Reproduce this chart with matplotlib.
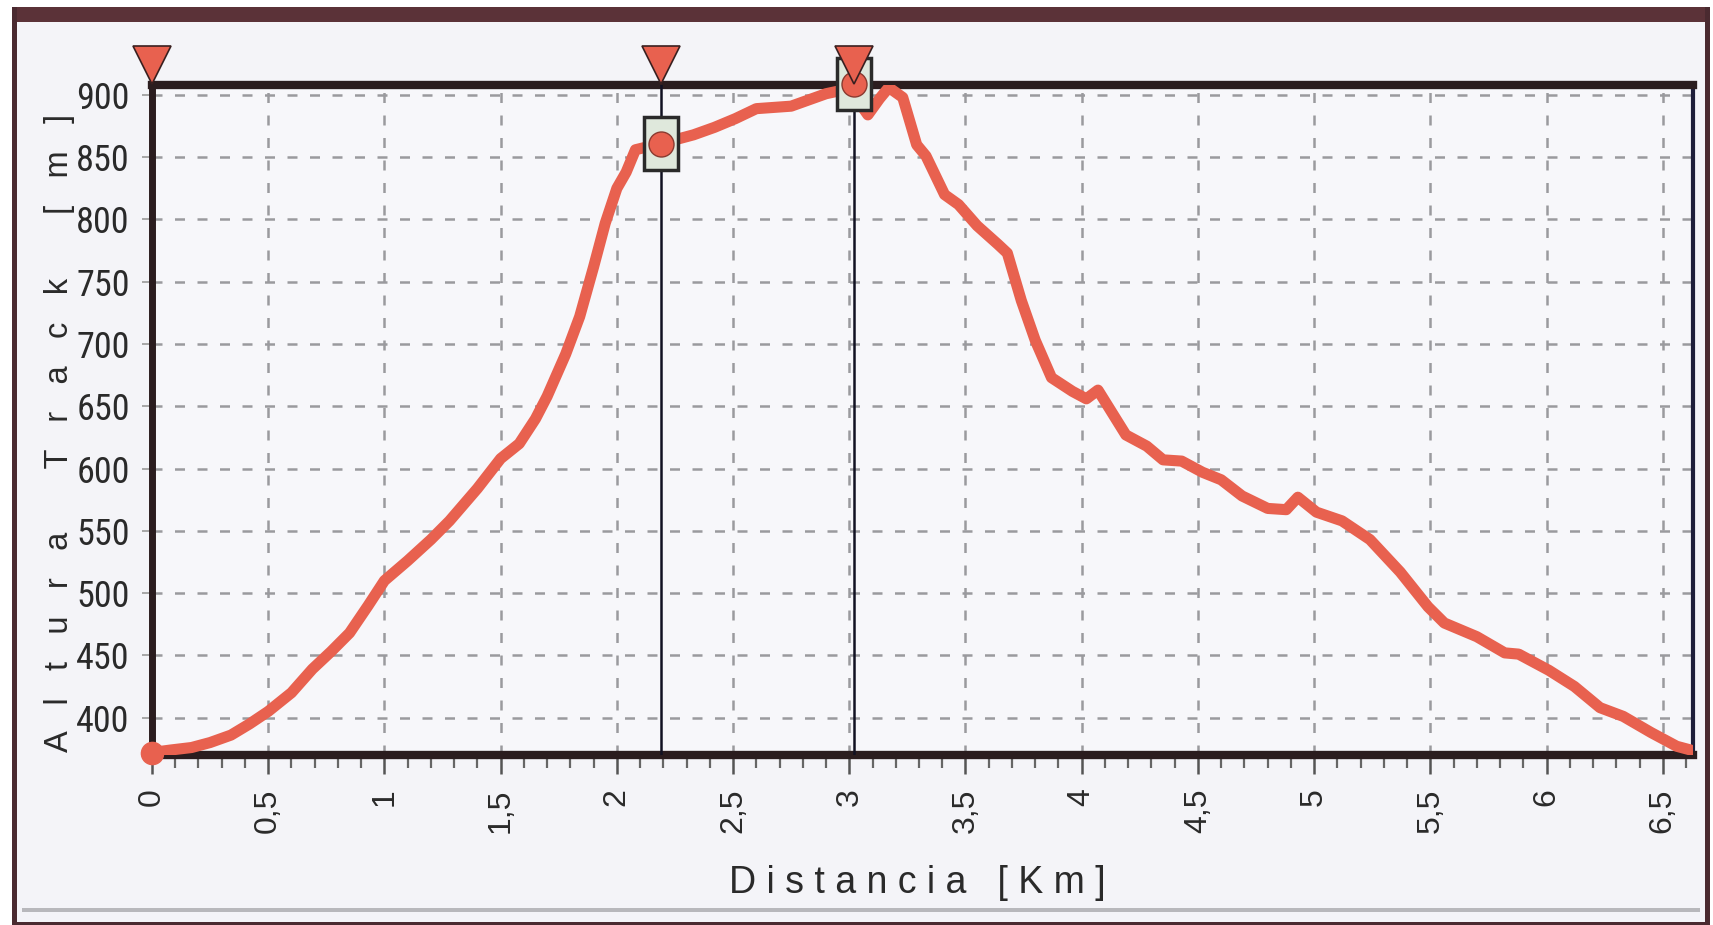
import matplotlib
matplotlib.use("Agg")
import matplotlib.pyplot as plt
from matplotlib.patches import Rectangle
from matplotlib.transforms import blended_transform_factory
from matplotlib import font_manager

# ---------------- data ----------------
dist_km = [0.00, 0.08, 0.17, 0.25, 0.34, 0.42, 0.50, 0.60, 0.69, 0.77, 0.85, 0.93,
           1.00, 1.05, 1.10, 1.20, 1.28, 1.40, 1.50, 1.58, 1.65, 1.70, 1.78, 1.84,
           1.90, 1.95, 2.00, 2.04, 2.08, 2.19, 2.33, 2.42, 2.51, 2.60, 2.75, 2.90,
           3.00, 3.05, 3.08, 3.13, 3.17, 3.23, 3.29, 3.33, 3.41, 3.47, 3.55, 3.64,
           3.68, 3.74, 3.80, 3.87, 3.96, 4.02, 4.07, 4.13, 4.19, 4.28, 4.35, 4.43,
           4.52, 4.60, 4.69, 4.80, 4.88, 4.93, 5.01, 5.12, 5.24, 5.37, 5.49, 5.56,
           5.70, 5.82, 5.88, 6.01, 6.12, 6.23, 6.33, 6.45, 6.56, 6.62]
alt_m = [372, 374, 376, 380, 386, 395, 405, 420, 439, 453, 468, 490,
         510, 518, 526, 543, 558, 584, 608, 620, 640, 658, 692, 722,
         762, 797, 825, 838, 856, 861, 868, 874, 881, 889, 891, 901,
         905, 892, 884, 897, 906, 898, 860, 851, 820, 812, 795, 780,
         773, 735, 703, 673, 662, 656, 663, 645, 627, 618, 607, 606,
         597, 591, 578, 568, 567, 577, 565, 558, 543, 517, 489, 476,
         465, 452, 451, 438, 425, 408, 401, 388, 377, 374]

marker_km = [0.0, 2.19, 3.02]        # waypoint markers (triangles on top)
boxed_km = [2.19, 3.02]              # selected points (boxed)
boxed_alt = [861, 909]

xticks = [0, 0.5, 1, 1.5, 2, 2.5, 3, 3.5, 4, 4.5, 5, 5.5, 6, 6.5]
xtick_labels = ["0", "0,5", "1", "1,5", "2", "2,5", "3", "3,5", "4", "4,5",
                "5", "5,5", "6", "6,5"]
yticks = [400, 450, 500, 550, 600, 650, 700, 750, 800, 850, 900]
ytick_labels = [str(v) for v in yticks]

x_title = "D i s t a n c i a   [ K m ]"
y_title = "A   l   t   u   r   a       T   r   a   c   k       [   m   ]"

# ---------------- style ----------------
W, H = 1713, 925
RED = "#e8614f"
BG = "#f4f4f8"
DARK = "#2b1d1f"

# pick a narrow font for the y tick labels if one is installed
names = {f.name for f in font_manager.fontManager.ttflist}
narrow = None
for cand in ["Liberation Sans Narrow", "DejaVu Sans Condensed", "Roboto Condensed",
             "Open Sans Condensed", "Noto Sans Condensed"]:
    if cand in names:
        narrow = cand
        break
ytick_family = [narrow, "Liberation Sans"] if narrow else ["Liberation Sans"]
ytick_size = 26 if narrow else 23

fig = plt.figure(figsize=(W / 100, H / 100), dpi=100)
fig.patch.set_facecolor(BG)

L, R, T, B = 152, 1693, 85, 755
ax = fig.add_axes([L / W, 1 - B / H, (R - L) / W, (B - T) / H])
ax.set_facecolor("#f7f7fa")
ax.set_xlim(0, 6.63)
ax.set_ylim(370, 908)

# grid
ax.set_axisbelow(True)
ax.grid(True, which="major", color="#9a9a9e", linestyle=(0, (4, 5)), linewidth=1.8)

# ticks
ax.set_xticks(xticks)
ax.set_xticklabels(xtick_labels, rotation=90, fontsize=23,
                   family=["Liberation Sans", "DejaVu Sans"], color="#2a2a2a")
ax.set_xticks([i / 10 for i in range(0, 67)], minor=True)
ax.set_yticks(yticks)
ax.set_yticklabels(ytick_labels, fontsize=ytick_size, family=ytick_family,
                   color="#2a2a2a")
ax.tick_params(axis="x", which="major", length=14, width=1.8, color="#555555", pad=10)
ax.tick_params(axis="x", which="minor", length=9, width=1.6, color="#666666")
ax.tick_params(axis="y", which="major", length=7, width=1.2, color="#999999", pad=9)

# spines
for side, lw in (("top", 6), ("bottom", 6), ("left", 5), ("right", 3)):
    ax.spines[side].set_linewidth(lw)
    ax.spines[side].set_color(DARK if side != "right" else "#1e1e3a")

# vertical marker lines
for xm in boxed_km:
    ax.axvline(xm, color="#111122", linewidth=1.8, zorder=3)

# elevation profile
ax.plot(dist_km, alt_m, color=RED, linewidth=8, solid_capstyle="round",
        solid_joinstyle="round", zorder=4)

# start dot
ax.plot(dist_km[0], alt_m[0], "o", color=RED, markersize=16, zorder=6, clip_on=False)

# boxed selected points
for xb, yb in zip(boxed_km, boxed_alt):
    ax.add_patch(Rectangle((xb - 0.075, yb - 21), 0.15, 42,
                           facecolor="#dfe8dc", edgecolor="#2a2a2a",
                           linewidth=2.5, zorder=5, clip_on=False))
    ax.plot(xb, yb, marker="o", markersize=18, color=RED, markeredgecolor="#8a3a30",
            markeredgewidth=1, zorder=6, clip_on=False)

# triangles on top of the plot
trans = blended_transform_factory(ax.transData, ax.transAxes)
for xm in marker_km:
    ax.plot(xm, 1.03, marker="v", markersize=27, color=RED, markeredgecolor="#3a2020",
            markeredgewidth=1.2, transform=trans, clip_on=False, zorder=7)

# axis titles
fig.text((L + R) / 2 / W - 0.003, 1 - 883 / H, x_title, ha="center", va="center",
         fontsize=27, family=["Liberation Sans", "DejaVu Sans"], color="#2a2a2a")
fig.text(60 / W, 1 - 433 / H, y_title, ha="center", va="center", rotation=90,
         fontsize=23.5, family=["Liberation Sans", "DejaVu Sans"], color="#2a2a2a")

# outer window frame
frame_kw = dict(transform=fig.transFigure, figure=fig)
fig.patches.append(Rectangle((0, 1 - 7 / H), 1, 7 / H, facecolor="white",
                             edgecolor="none", **frame_kw))
fig.patches.append(Rectangle((0, 1 - 22 / H), 1, 15 / H, facecolor="#5b3238",
                             edgecolor="none", **frame_kw))
fig.patches.append(Rectangle((12 / W, 0), 5 / W, 1 - 7 / H, facecolor="#4a2a30",
                             edgecolor="none", **frame_kw))
fig.patches.append(Rectangle((1705 / W, 0), 5 / W, 1 - 7 / H, facecolor="#4a2a30",
                             edgecolor="none", **frame_kw))
fig.patches.append(Rectangle((1710 / W, 0), 3 / W, 1, facecolor="white",
                             edgecolor="none", **frame_kw))
fig.patches.append(Rectangle((0, 0), 12 / W, 1, facecolor="white",
                             edgecolor="none", **frame_kw))
fig.patches.append(Rectangle((22 / W, 1 - 912 / H), (1700 - 22) / W, 4 / H,
                             facecolor="#b8b8bc", edgecolor="none", **frame_kw))
fig.patches.append(Rectangle((12 / W, 0), (1710 - 12) / W, 3 / H,
                             facecolor="#4a2a30", edgecolor="none", **frame_kw))

fig.savefig("out.png", dpi=100, facecolor=fig.get_facecolor())
